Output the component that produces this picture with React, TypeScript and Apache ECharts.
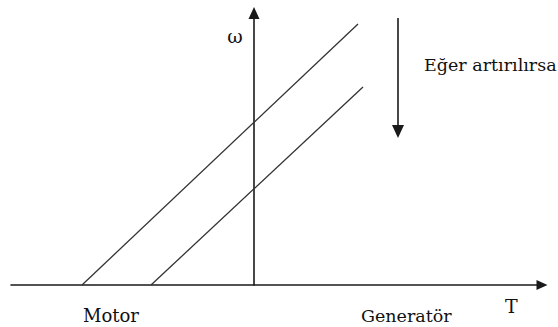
import React, { useEffect, useRef } from "react";
import * as echarts from "echarts";

// Characteristic lines (T, ω) in arbitrary units
const line1: [number, number][] = [[-17.2, 0], [10.4, 26.1]];
const line2: [number, number][] = [[-10.3, 0], [10.9, 19.8]];
const xRange = [-24.3, 28.8];
const yRange = [0, 27.2];
const labels = { omega: "ω", note: "Eğer artırılırsa", motor: "Motor", gen: "Generatör", t: "T" };

export default function App() {
  const ref = useRef<HTMLDivElement>(null);
  useEffect(() => {
    const chart = echarts.init(ref.current!, null, { renderer: "svg" });
    const txt = (text: string, x: number, y: number, size: number, align = "left") => ({
      type: "text",
      x,
      y,
      style: {
        text,
        fill: "#111",
        fontSize: size,
        fontFamily: "DejaVu Serif",
        align,
        verticalAlign: "middle",
      },
    });
    chart.setOption({
      animation: false,
      backgroundColor: "#fff",
      grid: { left: 11, right: 16, top: 13, bottom: 42 },
      xAxis: {
        type: "value",
        min: xRange[0],
        max: xRange[1],
        axisTick: { show: false },
        axisLabel: { show: false },
        splitLine: { show: false },
        axisLine: {
          onZero: false,
          symbol: ["none", "triangle"],
          symbolSize: [10, 11],
          lineStyle: { color: "#1a1a1a", width: 1.6 },
        },
      },
      yAxis: {
        type: "value",
        min: yRange[0],
        max: yRange[1],
        axisTick: { show: false },
        axisLabel: { show: false },
        splitLine: { show: false },
        axisLine: {
          onZero: true,
          symbol: ["none", "triangle"],
          symbolSize: [11, 12],
          lineStyle: { color: "#1a1a1a", width: 1.6 },
        },
      },
      series: [
        { type: "line", data: line1, symbol: "none", clip: false, lineStyle: { color: "#333", width: 1.3 } },
        { type: "line", data: line2, symbol: "none", clip: false, lineStyle: { color: "#333", width: 1.3 } },
      ],
      graphic: [
        txt(labels.omega, 235, 36, 19, "center"),
        txt(labels.note, 424, 64.5, 17.5),
        txt(labels.motor, 83, 315.5, 18),
        txt(labels.gen, 361, 315.5, 17.5),
        txt(labels.t, 505, 306, 19),
        { type: "line", shape: { x1: 398, y1: 18, x2: 398, y2: 128 }, style: { stroke: "#1a1a1a", lineWidth: 1.6 } },
        { type: "polygon", shape: { points: [[392, 125], [404, 125], [398, 138]] }, style: { fill: "#1a1a1a" } },
      ],
    });
    return () => chart.dispose();
  }, []);
  return <div ref={ref} style={{ position: "fixed", left: 0, top: 0, width: 558, height: 327 }} />;
}
